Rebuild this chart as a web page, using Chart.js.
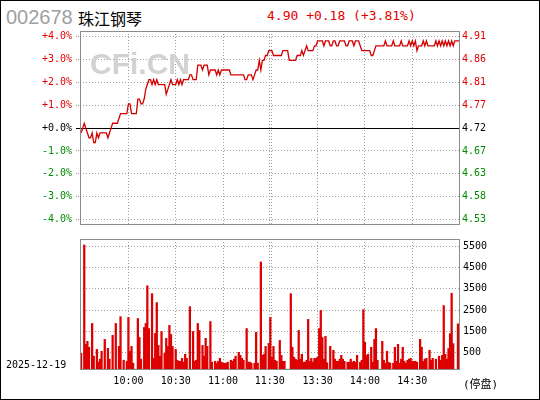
<!DOCTYPE html>
<html>
<head>
<meta charset="utf-8">
<script src="https://cdn.jsdelivr.net/npm/chart.js@4/dist/chart.umd.min.js"></script>
<style>
  body { margin: 0; background: #fff; }
  #wrap { position: relative; width: 540px; height: 400px; overflow: hidden; background: #fff; }
  #frame { position: absolute; left: 0; top: 0; width: 540px; height: 400px; border: 1px solid #000; box-sizing: border-box; z-index: 5; }
  canvas { position: absolute; left: 0; }
  .txt { position: absolute; white-space: nowrap; line-height: 1; }
</style>
</head>
<body>
<div id="wrap">
  <div class="txt" style="left:6px;top:6px;font:20px 'Liberation Sans',Arial,sans-serif;color:#a0a0a0">002678</div>
  <div class="txt" style="left:78px;top:6px;font:16px 'Noto Sans CJK SC',sans-serif;color:#000">珠江钢琴</div>
  <div class="txt" style="left:267px;top:8px;font:13px 'DejaVu Sans Mono',monospace;color:#e00000;white-space:pre">4.90 +0.18 (+3.81%)</div>
  <canvas id="priceChart" width="540" height="235" style="top:0"></canvas>
  <canvas id="volChart" width="540" height="170" style="top:230px"></canvas>
  <div class="txt" style="left:6px;top:359px;font:10px 'DejaVu Sans Mono',monospace;color:#000">2025-12-19</div>
  <div class="txt" style="left:463px;top:375px;font:11px 'DejaVu Sans Mono','Noto Sans CJK SC',monospace;color:#000">(停盘)</div>
  <div id="frame"></div>
</div>
<script>
// 昨收
const basePrice = 4.72;

// 每分钟价格 (9:30 起, 241 个点)
const prices = [
  4.71, 4.72, 4.73, 4.72, 4.71, 4.70, 4.70, 4.71, 4.69, 4.69,
  4.71, 4.70, 4.71, 4.71, 4.71, 4.71, 4.71, 4.70, 4.71, 4.72,
  4.73, 4.73, 4.73, 4.73, 4.74, 4.75, 4.75, 4.75, 4.75, 4.75,
  4.77, 4.77, 4.75, 4.75, 4.75, 4.75, 4.78, 4.78, 4.77, 4.77,
  4.78, 4.80, 4.81, 4.82, 4.82, 4.81, 4.82, 4.81, 4.82, 4.81,
  4.81, 4.81, 4.81, 4.81, 4.79, 4.80, 4.81, 4.82, 4.81, 4.81,
  4.81, 4.82, 4.81, 4.82, 4.81, 4.82, 4.82, 4.82, 4.82, 4.83,
  4.83, 4.82, 4.82, 4.82, 4.85, 4.85, 4.85, 4.84, 4.85, 4.85,
  4.85, 4.83, 4.84, 4.84, 4.84, 4.84, 4.83, 4.84, 4.83, 4.84,
  4.84, 4.84, 4.84, 4.84, 4.84, 4.83, 4.83, 4.83, 4.83, 4.83,
  4.83, 4.83, 4.83, 4.83, 4.82, 4.82, 4.83, 4.83, 4.83, 4.82,
  4.83, 4.84, 4.84, 4.86, 4.84, 4.86, 4.86, 4.87, 4.87, 4.88,
  4.88, 4.88, 4.87, 4.87, 4.87, 4.87, 4.87, 4.87, 4.88, 4.88,
  4.88, 4.88, 4.86, 4.86, 4.86, 4.86, 4.86, 4.87, 4.87, 4.87,
  4.88, 4.87, 4.88, 4.89, 4.88, 4.88, 4.88, 4.88, 4.89, 4.89,
  4.90, 4.90, 4.90, 4.90, 4.89, 4.90, 4.90, 4.90, 4.89, 4.89,
  4.90, 4.90, 4.89, 4.89, 4.90, 4.90, 4.90, 4.90, 4.89, 4.89,
  4.90, 4.90, 4.90, 4.89, 4.90, 4.90, 4.90, 4.89, 4.88, 4.88,
  4.88, 4.88, 4.88, 4.88, 4.87, 4.87, 4.88, 4.89, 4.89, 4.89,
  4.89, 4.89, 4.89, 4.90, 4.89, 4.89, 4.89, 4.89, 4.90, 4.89,
  4.89, 4.89, 4.89, 4.90, 4.89, 4.89, 4.89, 4.89, 4.90, 4.89,
  4.90, 4.89, 4.90, 4.88, 4.89, 4.89, 4.89, 4.90, 4.89, 4.90,
  4.89, 4.89, 4.89, 4.89, 4.89, 4.90, 4.89, 4.90, 4.89, 4.90,
  4.89, 4.90, 4.89, 4.90, 4.89, 4.90, 4.89, 4.90, 4.90, 4.90,
  4.90
];

// 每分钟成交量 (手), null = 无成交
const volumes = [
  470, null, 5560, 890, 1030, 750, null, 1870, 330, null,
  650, 50, 190, 560, null, 1120, null, 700, 190, null,
  1310, null, 1870, null, 790, 2190, null, 140, null, 90,
  2150, 560, 790, 0, null, null, 2100, 1210, 190, null,
  1680, 1870, 3640, 1630, null, 3270, 230, 1400, 2850, 840,
  330, 1490, null, 470, 1170, 790, 1780, 1350, 790, null,
  650, 140, 90, 90, 230, 50, 420, 230, null, 2660,
  null, 1490, 90, 140, 1870, 1540, null, 840, 330, 1170,
  790, null, 1960, 50, null, 90, 0, 90, 230, 50,
  0, 0, 0, 50, null, 140, 90, 190, 330, null,
  510, 370, 230, 140, null, 1630, 50, 50, 0, null,
  0, 1450, 0, null, 4760, 370, 420, 790, null, 930,
  2150, 280, 790, 140, 90, null, 1070, 370, 90, 90,
  null, null, null, 3270, 750, 280, 190, 140, 1540, 190,
  420, 50, 50, 140, 2060, 90, 230, 50, 230, 230,
  280, 1630, 2480, 1210, 190, 1260, 20, null, 790, null,
  610, 190, 90, 90, 190, 370, 190, 90, null, 45,
  45, 190, 45, 90, 45, 370, null, 45, 140, 2520,
  980, 370, 420, null, 750, 45, 1120, 1630, 140, null,
  null, 1030, 140, 0, 560, 45, 0, null, 0, 750,
  90, 890, 0, 190, 750, 90, 0, 140, 190, 230,
  90, 90, 90, 45, null, 1120, 750, 90, 190, 230,
  null, 610, 140, 230, null, 190, null, 330, 140, 370,
  2710, 420, 190, 690, 1390, 3290, 920, null, null, 1850,
  null
];

const pctTicks = [4, 3, 2, 1, 0, -1, -2, -3, -4];
const pctLabels = ['+4.0%', '+3.0%', '+2.0%', '+1.0%', '+0.0%', '-1.0%', '-2.0%', '-3.0%', '-4.0%'];
const priceLabels = ['4.91', '4.86', '4.81', '4.77', '4.72', '4.67', '4.63', '4.58', '4.53'];
const volTicks = [5500, 4500, 3500, 2500, 1500, 500];
const volLabels = ['5500', '4500', '3500', '2500', '1500', '500'];
// 分钟序号; 11:30 与 13:00 两条线紧挨着
const timeTicks = [30, 60, 90, 119.7, 121, 150, 180, 210];
const timeLabels = ['10:00', '10:30', '11:00', '11:30', '', '13:30', '14:00', '14:30'];

const RED = '#e00000';
const GREEN = '#008c00';
const GRID = '#a0a0a0';
const LINE_RED = '#d40000';

Chart.defaults.font.family = "'DejaVu Sans Mono', monospace";
Chart.defaults.font.size = 10;
Chart.defaults.color = '#000';

const signColor = (ctx) => {
  const v = ctx.tick ? ctx.tick.value : 0;
  return v > 0 ? RED : (v < 0 ? GREEN : '#000');
};

const frame = {
  id: 'frame',
  afterDraw(chart) {
    const a = chart.chartArea, c = chart.ctx;
    c.save();
    c.strokeStyle = '#8c8c8c';
    c.lineWidth = 1;
    c.strokeRect(Math.round(a.left) + 0.5, Math.round(a.top) + 0.5,
      Math.round(a.right - a.left) - 1, Math.round(a.bottom - a.top) - 1);
    c.restore();
  }
};

const zeroLine = {
  id: 'zeroLine',
  beforeDatasetsDraw(chart) {
    const c = chart.ctx, a = chart.chartArea;
    const y = Math.round(chart.scales.y.getPixelForValue(0)) + 0.5;
    c.save();
    // 水印
    c.font = "bold 30px 'Liberation Sans', Arial, sans-serif";
    c.fillStyle = '#d2d2d2';
    c.textBaseline = 'alphabetic';
    c.fillText('CFi.CN', 90, 74);
    c.strokeStyle = '#000';
    c.lineWidth = 1;
    c.beginPath();
    c.moveTo(a.left - 4, y);
    c.lineTo(a.right, y);
    c.stroke();
    c.restore();
  }
};

const setTicks = (arr) => (scale) => { scale.ticks = arr.map(v => ({ value: v })); };

new Chart(document.getElementById('priceChart'), {
  type: 'line',
  data: {
    datasets: [{
      data: prices.map((p, i) => ({ x: i, y: (p / basePrice - 1) * 100 })),
      borderColor: LINE_RED,
      borderWidth: 1.3,
      pointRadius: 0,
      tension: 0
    }]
  },
  options: {
    responsive: false,
    animation: false,
    events: [],
    layout: { padding: { top: 31, bottom: 7, left: 0, right: 0 } },
    plugins: { legend: { display: false }, tooltip: { enabled: false } },
    scales: {
      x: {
        type: 'linear', min: -0.7, max: 240.3,
        afterBuildTicks: setTicks(timeTicks),
        afterFit: (s) => { s.height = 0; },
        ticks: { display: false },
        grid: { color: GRID, drawTicks: false },
        border: { display: false, dash: [1, 2] }
      },
      y: {
        position: 'left', min: -4.24, max: 4.25,
        afterBuildTicks: setTicks(pctTicks),
        afterFit: (s) => { s.width = 80; },
        ticks: {
          callback: (v, i) => pctLabels[i],
          color: signColor,
          padding: 4
        },
        grid: {
          color: (ctx) => (ctx.tick && ctx.tick.value === 0) ? 'rgba(0,0,0,0)' : GRID,
          tickColor: (ctx) => (ctx.tick && ctx.tick.value === 0) ? 'rgba(0,0,0,0)' : GRID,
          tickLength: 4,
          tickBorderDash: [1, 1]
        },
        border: { display: false, dash: [1, 2] }
      },
      y2: {
        position: 'right', min: -4.24, max: 4.25,
        afterBuildTicks: setTicks(pctTicks),
        afterFit: (s) => { s.width = 80; },
        ticks: {
          callback: (v, i) => priceLabels[i],
          color: signColor,
          padding: 2
        },
        grid: { drawOnChartArea: false, drawTicks: false },
        border: { display: false }
      }
    }
  },
  plugins: [zeroLine, frame]
});

const volMin = -320;

new Chart(document.getElementById('volChart'), {
  type: 'bar',
  data: {
    datasets: [{
      data: volumes.map((v, i) => ({ x: i, y: v })).filter(d => d.y !== null),
      backgroundColor: '#dd0000',
      borderWidth: 0,
      barThickness: 1.6,
      base: volMin
    }]
  },
  options: {
    responsive: false,
    animation: false,
    events: [],
    layout: { padding: { top: 8, bottom: 0, left: 80, right: 0 } },
    plugins: { legend: { display: false }, tooltip: { enabled: false } },
    scales: {
      x: {
        type: 'linear', min: -0.7, max: 240.3, offset: false,
        afterBuildTicks: setTicks(timeTicks),
        afterFit: (s) => { s.height = 30; },
        ticks: {
          callback: (v, i) => timeLabels[i],
          maxRotation: 0,
          autoSkip: false,
          padding: 5
        },
        grid: { color: GRID, drawTicks: false, offset: false },
        border: { display: false, dash: [1, 2] }
      },
      y: {
        position: 'right', min: volMin, max: 5840,
        afterBuildTicks: setTicks(volTicks),
        afterFit: (s) => { s.width = 80; },
        ticks: {
          callback: (v, i) => volLabels[i],
          padding: 3
        },
        grid: { color: GRID, drawTicks: false },
        border: { display: false, dash: [1, 2] }
      }
    }
  },
  plugins: [frame]
});
</script>
</body>
</html>
